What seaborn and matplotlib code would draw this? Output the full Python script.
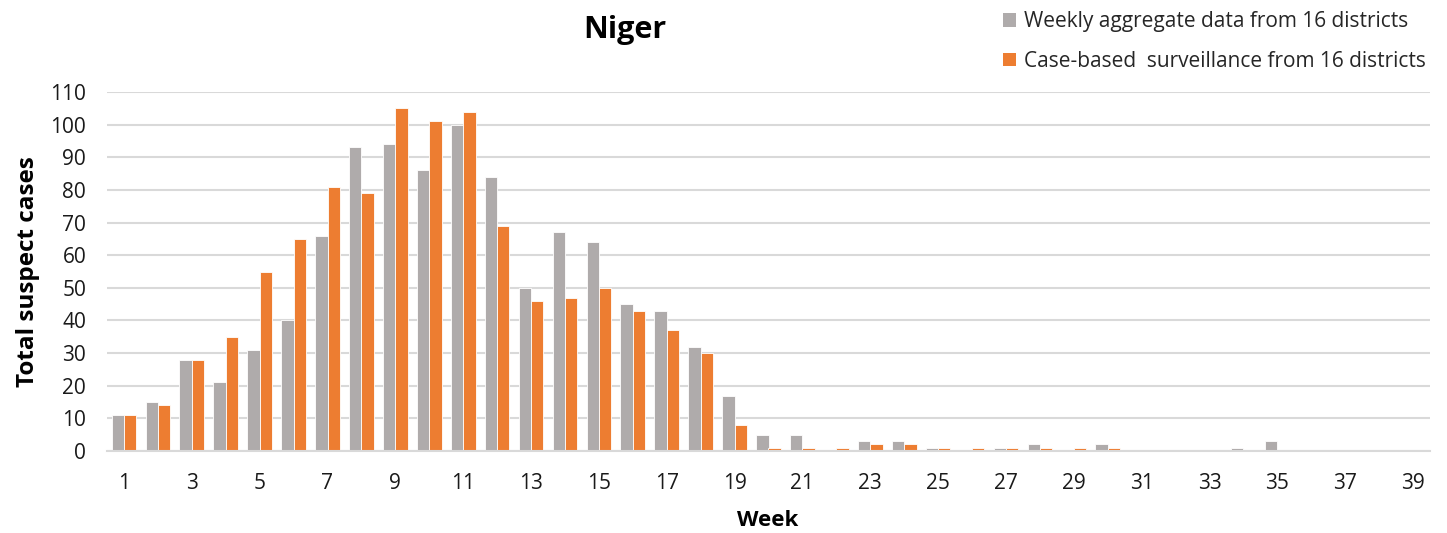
import matplotlib
matplotlib.use("Agg")
import matplotlib.pyplot as plt
import seaborn as sns
import pandas as pd
from matplotlib.patches import Patch

weeks = list(range(1, 40))
weekly_aggregate = [11, 15, 28, 21, 31, 40, 66, 93, 94, 86, 100, 84, 50, 67, 64, 45, 43, 32, 17,
                    5, 5, 0, 3, 3, 1, 0, 1, 2, 0, 2, 0, 0, 0, 1, 3, 0, 0, 0, 0]
case_based = [11, 14, 28, 35, 55, 65, 81, 79, 105, 101, 104, 69, 46, 47, 50, 43, 37, 30, 8,
              1, 1, 1, 2, 2, 1, 1, 1, 1, 1, 1, 0, 0, 0, 0, 0, 0, 0, 0, 0]
series_names = ["Weekly aggregate data from 16 districts",
                "Case-based  surveillance from 16 districts"]
colors = ["#AFABAB", "#ED7D31"]

df = pd.DataFrame({
    "Week": [str(w) for w in weeks] * 2,
    "Cases": weekly_aggregate + case_based,
    "Series": [series_names[0]] * len(weeks) + [series_names[1]] * len(weeks),
})

sns.set_theme(style="white")
plt.rcParams["font.family"] = ["Open Sans", "DejaVu Sans"]

fig = plt.figure(figsize=(14.47, 5.33), dpi=100)
ax = fig.add_axes([107 / 1447, 1 - 451 / 533, (1430 - 107) / 1447, (451 - 92) / 533])

sns.barplot(data=df, x="Week", y="Cases", hue="Series", palette=colors,
            order=[str(w) for w in weeks], hue_order=series_names,
            width=0.73, ax=ax, legend=False, edgecolor="white", linewidth=0.6,
            saturation=1)

ax.set_ylim(0, 110)
ax.set_xlim(-0.5, len(weeks) - 0.5)
ax.set_yticks(range(0, 111, 10))
ax.set_yticklabels([str(v) for v in range(0, 111, 10)], fontsize=15, color="#1a1a1a")
tick_pos = list(range(0, len(weeks), 2))
ax.set_xticks(tick_pos)
ax.set_xticklabels([str(weeks[i]) for i in tick_pos], fontsize=15, color="#1a1a1a")
ax.tick_params(axis="x", length=0, pad=16)
ax.tick_params(axis="y", length=0, pad=15)

ax.grid(axis="y", color="#D9D9D9", linewidth=1.5)
ax.set_axisbelow(True)
for s in ["top", "right", "left"]:
    ax.spines[s].set_visible(False)
ax.spines["bottom"].set_color("#D9D9D9")
ax.spines["bottom"].set_linewidth(1.5)
ax.set_xlabel("")
ax.set_ylabel("")

fig.text(28 / 1447, 1 - 272 / 533, "Total suspect cases", rotation=90, ha="center", va="center",
         fontsize=17.5, fontweight="bold", color="black")
fig.text(768 / 1447, 1 - 520 / 533, "Week", ha="center", va="center",
         fontsize=16, fontweight="bold", color="black")
fig.text(625 / 1447, 1 - 30 / 533, "Niger", ha="center", va="center",
         fontsize=22, fontweight="bold", color="black")

handles = [Patch(facecolor=c, edgecolor="none") for c in colors]
fig.legend(handles, series_names, loc="upper left", bbox_to_anchor=(995 / 1447, 1 - 3 / 533),
           frameon=False, fontsize=15, handlelength=0.6, handleheight=0.6,
           handletextpad=0.4, labelspacing=0.9, borderaxespad=0)

fig.savefig("out.png", dpi=100)
